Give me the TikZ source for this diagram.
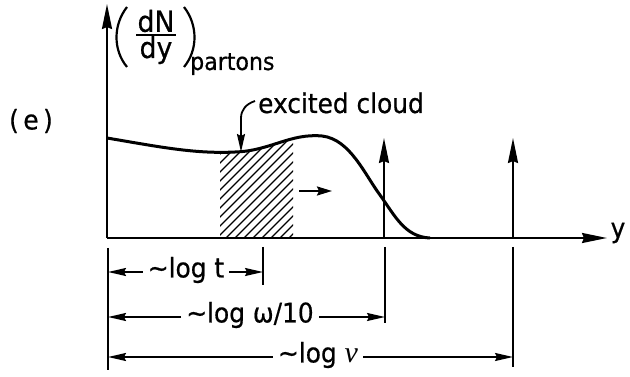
\documentclass[tikz,border=0pt]{standalone}
\usepackage{fontspec}
\setmainfont{DejaVu Sans}[FakeStretch=0.92,FakeBold=0.6]
\newfontfamily\nufont{Liberation Serif}
\usetikzlibrary{arrows.meta}
\begin{document}
\begin{tikzpicture}[x=1pt,y=-1pt,
  axis/.style={line width=2.2pt},
  bigtip/.style={-{Stealth[length=25pt,width=10pt,inset=2pt]}},
  tip/.style={-{Stealth[length=18pt,width=8pt,inset=2pt]}},
  dimline/.style={line width=1.8pt},
  lbl/.style={inner sep=5pt,font=\fontsize{27}{31}\selectfont},
  ticks/.style={line width=1.8pt}]
\useasboundingbox (0,0) rectangle (630,377);
% coordinates
\coordinate (O) at (107,238);
\coordinate (ytop) at (107,4);
\coordinate (xend) at (607,238);
\coordinate (a1b) at (384,238);
\coordinate (a1t) at (384,138);
\coordinate (a2b) at (513,238);
\coordinate (a2t) at (513,138);
% labels
\node[lbl] (e) at (31,121) {(\,e\,)};
\node[lbl,font=\fontsize{29}{31}\selectfont] (dN) at (156,21) {dN};
\node[lbl,font=\fontsize{29}{31}\selectfont] (dy) at (156,50) {dy};
\draw[line width=2pt] (136,35) -- (176,35);
\draw[line width=2.2pt] (127,7) .. controls (113,25) and (113,50) .. (127,67);
\draw[line width=2.2pt] (184,7) .. controls (198,25) and (198,50) .. (184,67);
\node[lbl,inner sep=0pt,font=\fontsize{24}{28}\selectfont,anchor=base west] (partons) at (190,70) {partons};
\node[lbl,inner sep=0pt,font=\fontsize{27}{30}\selectfont,anchor=base west] (cloud) at (258,113) {excited cloud};
\node[lbl] (ylab) at (618,233) {y};
% axes
\draw[axis,bigtip] (O) -- (ytop);
\draw[axis,bigtip] (O) -- (xend);
% hatched region
\begin{scope}
\clip (220,100) rectangle (293,238);
\clip (107,138) .. controls (160,147) and (195,154) .. (235,152) .. controls (270,151) and (290,133) .. (322,136) .. controls (350,139) and (365,175) .. (380,195) .. controls (395,216) and (405,237) .. (430,238) -- (107,238) -- cycle;
\foreach \i in {0,9,...,220} \draw[line width=1.1pt] (100+\i,238) -- ++(110,-110);
\end{scope}
% curve
\draw[line width=3pt] (107,138) .. controls (160,147) and (195,154) .. (235,152) .. controls (270,151) and (290,133) .. (322,136) .. controls (350,139) and (365,175) .. (380,195) .. controls (395,216) and (405,237) .. (430,238);
% delta arrows
\draw[axis,bigtip] (a1b) -- (a1t);
\draw[axis,bigtip] (a2b) -- (a2t);
% motion arrow
\coordinate (m1) at (299,191);
\coordinate (m2) at (332,191);
\draw[axis,-{Stealth[length=15pt,width=9pt,inset=2pt]}] (m1) -- (m2);
% excited cloud pointer
\coordinate (p0) at (255,101);
\coordinate (p1) at (241,118);
\coordinate (p2) at (241,152);
\draw[dimline,tip] (p0) .. controls (246,104) and (241,110) .. (p1) -- (p2);
% dimension ticks
\coordinate (t0a) at (108,248); \coordinate (t0b) at (108,370);
\coordinate (t1a) at (263,247); \coordinate (t1b) at (263,285);
\coordinate (t2a) at (385,247); \coordinate (t2b) at (385,323);
\coordinate (t3a) at (513,247); \coordinate (t3b) at (513,367);
\draw[ticks] (t0a) -- (t0b);
\draw[ticks] (t1a) -- (t1b);
\draw[ticks] (t2a) -- (t2b);
\draw[ticks] (t3a) -- (t3b);
% dimension labels
\node[lbl] (dt) at (186,270) {∼log t};
\node[lbl] (dw) at (250,315) {∼log ω/10};
\node[lbl] (dv) at (318,355) {∼log {\nufont\itshape\fontsize{30}{32}\selectfont ν}};
\draw[dimline,tip] (dt.west |- 0,272) -- (108,272);
\draw[dimline,tip] (dt.east |- 0,272) -- (263,272);
\draw[dimline,tip] (dw.west |- 0,317) -- (108,317);
\draw[dimline,tip] (dw.east |- 0,317) -- (385,317);
\draw[dimline,tip] (dv.west |- 0,357) -- (108,357);
\draw[dimline,tip] (dv.east |- 0,357) -- (513,357);
\end{tikzpicture}
\end{document}
